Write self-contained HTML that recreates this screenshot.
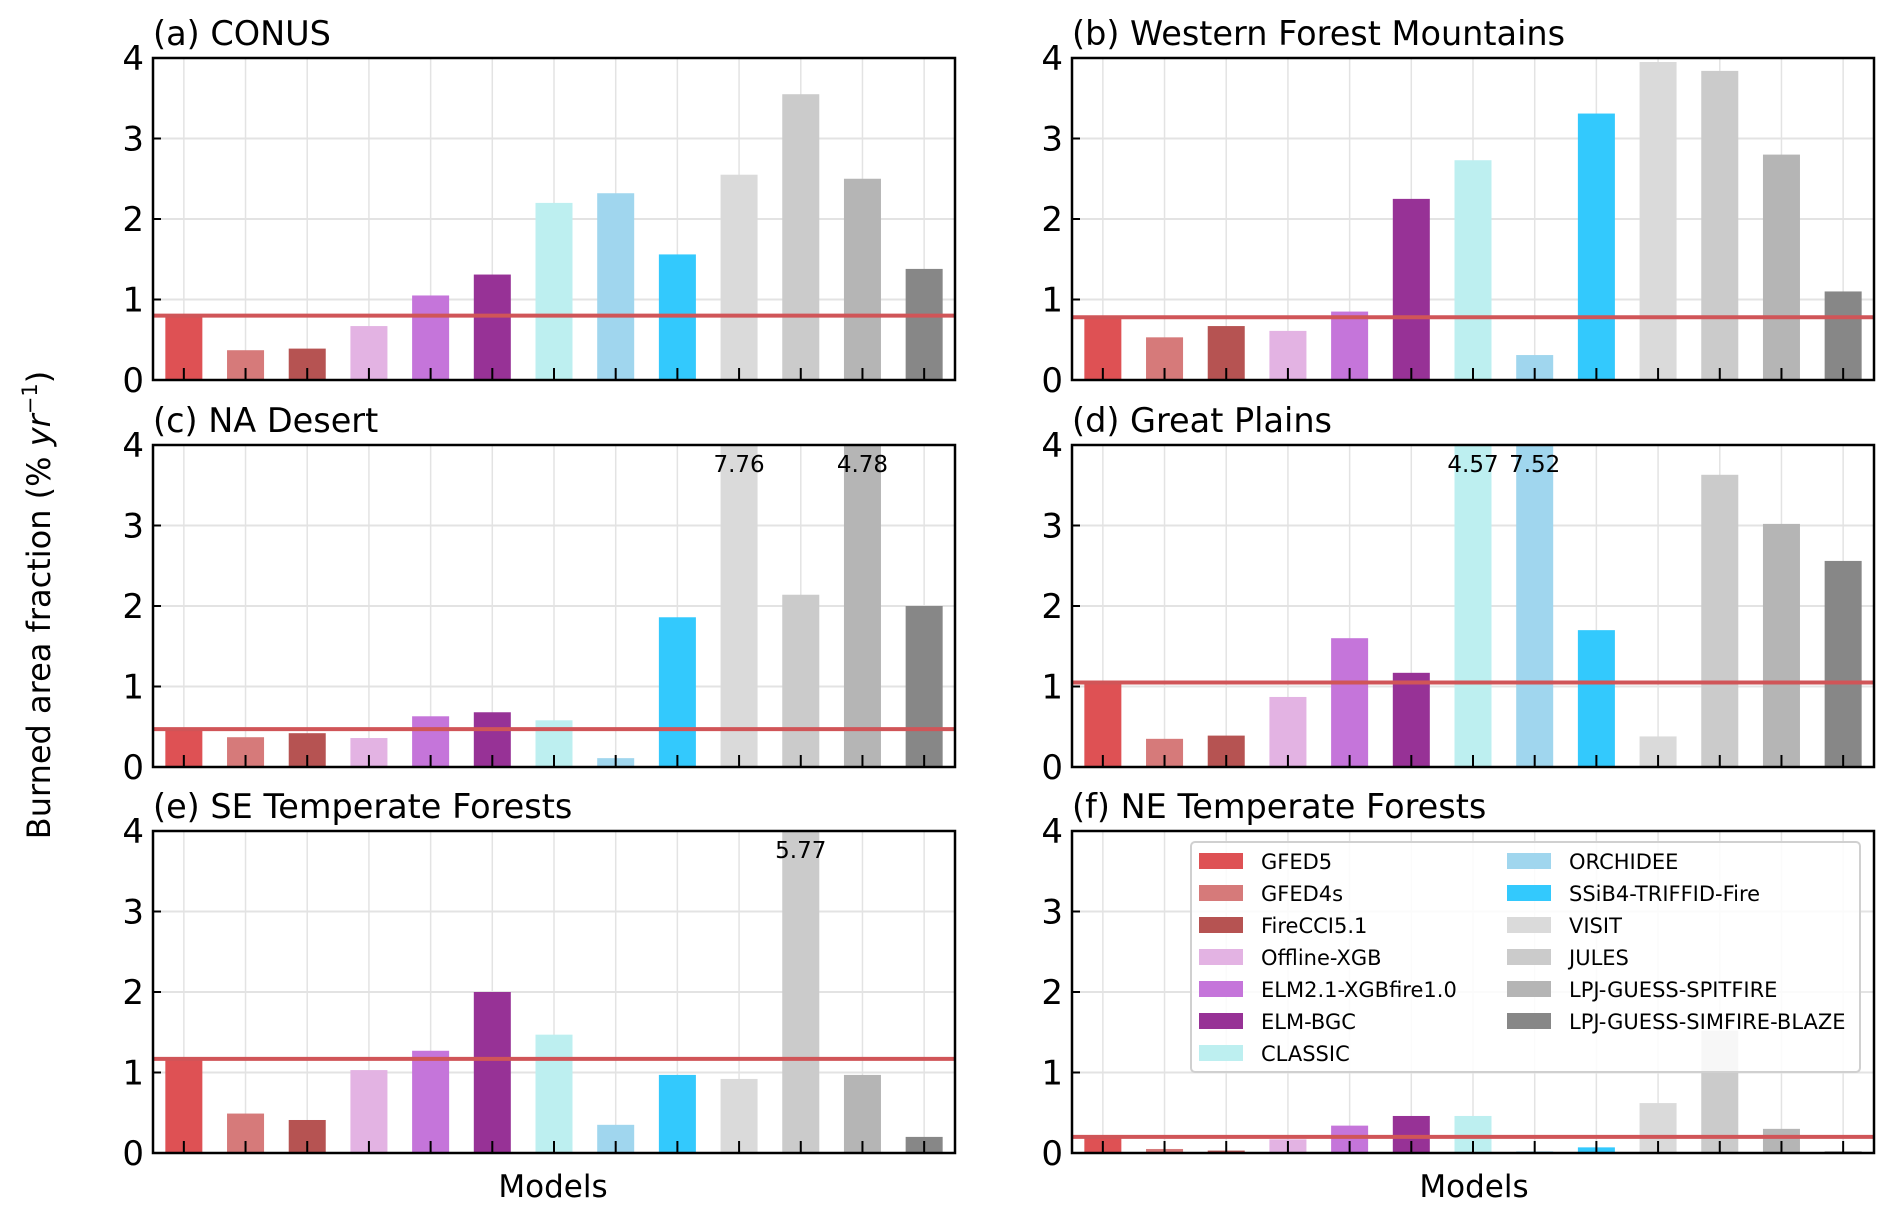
<!DOCTYPE html>
<html><head><meta charset="utf-8"><style>
html,body{margin:0;padding:0;background:#fff;}
svg{display:block;font-family:"DejaVu Sans","Liberation Sans",sans-serif;}
</style></head><body>
<svg id="chart" width="1892" height="1216" viewBox="0 0 1892 1216" xmlns="http://www.w3.org/2000/svg">
<text transform="translate(50,605) rotate(-90)" text-anchor="middle" font-size="32">Burned area fraction (% <tspan font-style="italic">yr</tspan><tspan font-size="21" dy="-13">−1</tspan><tspan dy="13">)</tspan></text>
<text x="553" y="1197" text-anchor="middle" font-size="31">Models</text>
<text x="1474" y="1197" text-anchor="middle" font-size="31">Models</text>
</svg>
<script>
const models = ["GFED5","GFED4s","FireCCI5.1","Offline-XGB","ELM2.1-XGBfire1.0","ELM-BGC","CLASSIC","ORCHIDEE","SSiB4-TRIFFID-Fire","VISIT","JULES","LPJ-GUESS-SPITFIRE","LPJ-GUESS-SIMFIRE-BLAZE"];
const colors = ["#de5154","#d67a7a","#b65352","#e3b3e3","#c575da","#973296","#bdeff0","#a0d6ee","#33c9fd","#dadada","#cbcbcb","#b5b5b5","#878787"];
const panelTitles = ["(a) CONUS","(b) Western Forest Mountains","(c) NA Desert","(d) Great Plains","(e) SE Temperate Forests","(f) NE Temperate Forests"];
const valsA = [0.8,0.37,0.39,0.67,1.05,1.31,2.2,2.32,1.56,2.55,3.55,2.5,1.38];
const valsB = [0.77,0.53,0.67,0.61,0.85,2.25,2.73,0.31,3.31,3.95,3.84,2.8,1.1];
const valsC = [0.48,0.37,0.42,0.36,0.63,0.68,0.58,0.11,1.86,7.76,2.14,4.78,2.0];
const valsD = [1.05,0.35,0.39,0.87,1.6,1.17,4.57,7.52,1.7,0.38,3.63,3.02,2.56];
const valsE = [1.18,0.49,0.41,1.03,1.27,2.0,1.47,0.35,0.97,0.92,5.77,0.97,0.2];
const valsF = [0.2,0.05,0.03,0.17,0.34,0.46,0.46,0.02,0.07,0.62,1.52,0.3,0.02];
const refLines = [0.8,0.78,0.47,1.05,1.17,0.2];
const yTicks = [0,1,2,3,4];
const allVals = [valsA,valsB,valsC,valsD,valsE,valsF];

const NS="http://www.w3.org/2000/svg";
const svg=document.getElementById('chart');
function mk(tag,attrs,parent){const e=document.createElementNS(NS,tag);for(const k in attrs)e.setAttribute(k,attrs[k]);(parent||svg).appendChild(e);return e;}
const colsX=[153,1072], rowsY=[58,445,831], W=802, H=322, YMAX=4;

allVals.forEach((vals,p)=>{
  const x0=colsX[p%2], y0=rowsY[Math.floor(p/2)];
  const xs=i=>x0+(i+0.5)*W/models.length;
  const ys=v=>y0+H-Math.min(v,YMAX)/YMAX*H;
  const g=mk('g',{});
  
  
  const t=mk('text',{x:x0,y:y0-13,'font-size':33.5},g);t.textContent=panelTitles[p];
  
  
  yTicks.forEach(v=>{mk('line',{x1:x0,x2:x0+W,y1:ys(v),y2:ys(v),stroke:'#e3e3e3','stroke-width':2},g);});
  models.forEach((m,i)=>{mk('line',{x1:xs(i),x2:xs(i),y1:y0,y2:y0+H,stroke:'#e3e3e3','stroke-width':1.5},g);});
  const bw=0.6*W/models.length;
  vals.forEach((v,i)=>{
    const r=mk('rect',{x:xs(i)-bw/2,y:ys(v),width:bw,height:y0+H-ys(v),fill:colors[i]},g);
    
    
    if(v>YMAX){
      const lt=mk('text',{x:xs(i),y:y0+27,'text-anchor':'middle','font-size':23},g);lt.textContent=v.toFixed(2);
      
      
    }
  });
  const rl=mk('line',{x1:x0,x2:x0+W,y1:ys(refLines[p]),y2:ys(refLines[p]),stroke:'#d05558','stroke-width':4},g);
  
  
  models.forEach((m,i)=>{mk('line',{x1:xs(i),x2:xs(i),y1:y0+H,y2:y0+H-12,stroke:'#000','stroke-width':2},g);});
  yTicks.forEach(v=>{
    mk('line',{x1:x0,x2:x0+8,y1:ys(v),y2:ys(v),stroke:'#000','stroke-width':2},g);
    const tl=mk('text',{x:x0-9,y:ys(v)+12,'text-anchor':'end','font-size':34},g);tl.textContent=v;
    
    
  });
  mk('rect',{x:x0,y:y0,width:W,height:H,fill:'none',stroke:'#000','stroke-width':2.5},g);
});

const lg=mk('g',{});


mk('rect',{x:1191,y:842,width:669,height:230,rx:4,fill:'rgba(255,255,255,0.85)',stroke:'#d0d0d0','stroke-width':2},lg);
models.forEach((m,i)=>{
  const col=i<7?0:1,row=i<7?i:i-7;
  const lx=col?1507:1199, ly=849+row*32;
  const e=mk('g',{},lg);
  
  
  mk('rect',{x:lx,y:ly+4,width:44,height:16,fill:colors[i]},e);
  const tx=mk('text',{x:lx+62,y:ly+20,'font-size':21},e);tx.textContent=m;
});
</script>
</body></html>
